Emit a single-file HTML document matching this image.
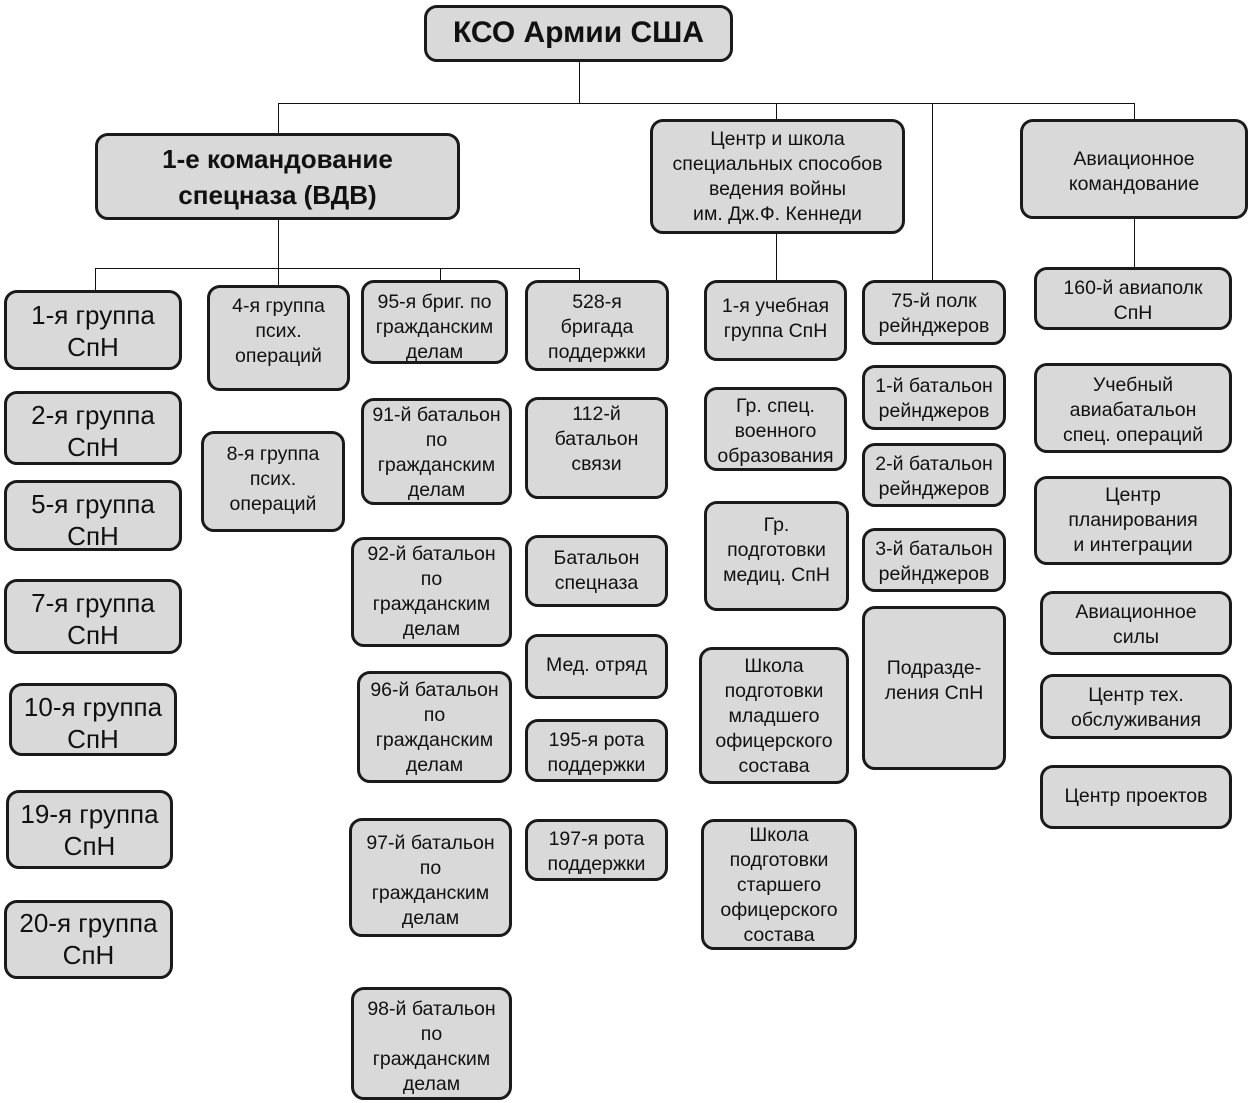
<!DOCTYPE html>
<html><head><meta charset="utf-8"><style>
body{margin:0;background:#fff;width:1250px;height:1103px;position:relative;overflow:hidden;font-family:"Liberation Sans","Noto Sans CJK SC",sans-serif;color:#111}
.b{position:absolute;box-sizing:border-box;background:#d9d9d9;border:3px solid #1a1a1a;border-radius:13px;text-align:center;font-size:19.5px;line-height:25px;white-space:nowrap}
.L{font-size:26px;line-height:32px}
.l{position:absolute;background:#111}
.h{height:1px}.v{width:1px}
</style></head><body>
<div class="l v" style="left:579px;top:62px;height:41px"></div>
<div class="l h" style="left:278px;top:103px;width:857px"></div>
<div class="l v" style="left:278px;top:103px;height:30px"></div>
<div class="l v" style="left:776px;top:103px;height:16px"></div>
<div class="l v" style="left:932px;top:103px;height:177px"></div>
<div class="l v" style="left:1134px;top:103px;height:16px"></div>
<div class="l v" style="left:278px;top:220px;height:48px"></div>
<div class="l h" style="left:95px;top:268px;width:485px"></div>
<div class="l v" style="left:95px;top:268px;height:22px"></div>
<div class="l v" style="left:440px;top:268px;height:12px"></div>
<div class="l v" style="left:579px;top:268px;height:12px"></div>
<div class="l v" style="left:278px;top:268px;height:17px"></div>
<div class="l v" style="left:776px;top:234px;height:46px"></div>
<div class="l v" style="left:1134px;top:219px;height:48px"></div>

<div class="b" style="left:424px;top:5px;width:309px;height:57px;font-size:30px;font-weight:bold;line-height:50px">КСО Армии США</div>
<div class="b" style="left:95px;top:133px;width:365px;height:87px;font-size:26px;font-weight:bold;line-height:36px;padding-top:5px">1-е командование<br>спецназа (ВДВ)</div>
<div class="b" style="left:650px;top:119px;width:255px;height:115px;padding-top:5px">Центр и школа<br>специальных способов<br>ведения войны<br>им. Дж.Ф. Кеннеди</div>
<div class="b" style="left:1020px;top:119px;width:228px;height:100px;padding-top:25px">Авиационное<br>командование</div>

<div class="b L" style="left:4px;top:290px;width:178px;height:80px;padding-top:6px">1-я группа<br>СпН</div>
<div class="b L" style="left:4px;top:391px;width:178px;height:74px;padding-top:5px">2-я группа<br>СпН</div>
<div class="b L" style="left:4px;top:480px;width:178px;height:71px;padding-top:5px">5-я группа<br>СпН</div>
<div class="b L" style="left:4px;top:579px;width:178px;height:75px;padding-top:5px">7-я группа<br>СпН</div>
<div class="b L" style="left:9px;top:683px;width:168px;height:73px;padding-top:5px">10-я группа<br>СпН</div>
<div class="b L" style="left:6px;top:790px;width:167px;height:79px;padding-top:5px">19-я группа<br>СпН</div>
<div class="b L" style="left:4px;top:900px;width:169px;height:79px;padding-top:4px">20-я группа<br>СпН</div>

<div class="b" style="left:207px;top:285px;width:143px;height:106px;padding-top:6px">4-я группа<br>псих.<br>операций</div>
<div class="b" style="left:201px;top:431px;width:144px;height:101px;padding-top:8px">8-я группа<br>псих.<br>операций</div>

<div class="b" style="left:361px;top:280px;width:147px;height:84px;padding-top:7px">95-я бриг. по<br>гражданским<br>делам</div>
<div class="b" style="left:361px;top:398px;width:151px;height:107px;padding-top:2px">91-й батальон<br>по<br>гражданским<br>делам</div>
<div class="b" style="left:351px;top:537px;width:161px;height:110px;padding-top:2px">92-й батальон<br>по<br>гражданским<br>делам</div>
<div class="b" style="left:357px;top:671px;width:155px;height:112px;padding-top:4px">96-й батальон<br>по<br>гражданским<br>делам</div>
<div class="b" style="left:349px;top:818px;width:163px;height:119px;padding-top:10px">97-й батальон<br>по<br>гражданским<br>делам</div>
<div class="b" style="left:351px;top:987px;width:161px;height:113px;padding-top:7px">98-й батальон<br>по<br>гражданским<br>делам</div>

<div class="b" style="left:525px;top:280px;width:144px;height:91px;padding-top:7px">528-я<br>бригада<br>поддержки</div>
<div class="b" style="left:525px;top:397px;width:143px;height:102px;padding-top:2px">112-й<br>батальон<br>связи</div>
<div class="b" style="left:525px;top:535px;width:143px;height:72px;padding-top:8px">Батальон<br>спецназа</div>
<div class="b" style="left:525px;top:634px;width:143px;height:65px;padding-top:16px">Мед. отряд</div>
<div class="b" style="left:525px;top:719px;width:143px;height:63px;padding-top:6px">195-я рота<br>поддержки</div>
<div class="b" style="left:525px;top:819px;width:143px;height:62px;padding-top:5px">197-я рота<br>поддержки</div>

<div class="b" style="left:704px;top:280px;width:143px;height:81px;padding-top:11px">1-я учебная<br>группа СпН</div>
<div class="b" style="left:704px;top:387px;width:143px;height:84px;padding-top:4px">Гр. спец.<br>военного<br>образования</div>
<div class="b" style="left:704px;top:501px;width:145px;height:110px;padding-top:9px">Гр.<br>подготовки<br>медиц. СпН</div>
<div class="b" style="left:699px;top:647px;width:150px;height:137px;padding-top:4px">Школа<br>подготовки<br>младшего<br>офицерского<br>состава</div>
<div class="b" style="left:701px;top:819px;width:156px;height:131px;padding-top:1px">Школа<br>подготовки<br>старшего<br>офицерского<br>состава</div>

<div class="b" style="left:862px;top:280px;width:144px;height:65px;padding-top:6px">75-й полк<br>рейнджеров</div>
<div class="b" style="left:862px;top:365px;width:144px;height:65px;padding-top:6px">1-й батальон<br>рейнджеров</div>
<div class="b" style="left:862px;top:443px;width:144px;height:64px;padding-top:6px">2-й батальон<br>рейнджеров</div>
<div class="b" style="left:862px;top:528px;width:144px;height:64px;padding-top:6px">3-й батальон<br>рейнджеров</div>
<div class="b" style="left:862px;top:606px;width:144px;height:164px;padding-top:47px">Подразде-<br>ления СпН</div>

<div class="b" style="left:1034px;top:267px;width:198px;height:63px;padding-top:6px">160-й авиаполк<br>СпН</div>
<div class="b" style="left:1034px;top:363px;width:198px;height:90px;padding-top:7px">Учебный<br>авиабатальон<br>спец. операций</div>
<div class="b" style="left:1034px;top:476px;width:198px;height:89px;padding-top:4px">Центр<br>планирования<br>и интеграции</div>
<div class="b" style="left:1040px;top:591px;width:192px;height:64px;padding-top:6px">Авиационное<br>силы</div>
<div class="b" style="left:1040px;top:674px;width:192px;height:65px;padding-top:6px">Центр тех.<br>обслуживания</div>
<div class="b" style="left:1040px;top:765px;width:192px;height:64px;padding-top:16px">Центр проектов</div>
</body></html>
